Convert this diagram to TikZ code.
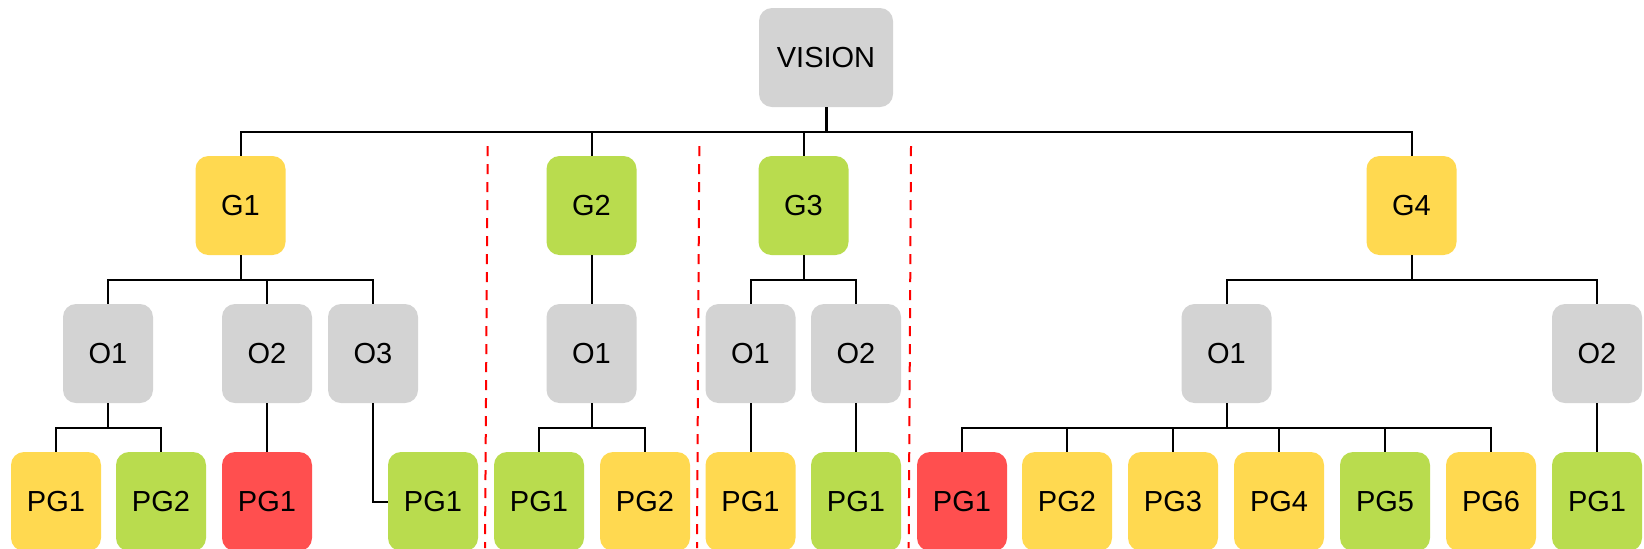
\documentclass[tikz,border=0pt]{standalone}
\usepackage{fontspec}
\setmainfont{Liberation Sans}
\usetikzlibrary{calc}

\definecolor{boxgray}{RGB}{211,211,211}
\definecolor{boxyellow}{RGB}{255,217,80}
\definecolor{boxgreen}{RGB}{185,220,78}
\definecolor{boxred}{RGB}{255,79,79}
\definecolor{divred}{RGB}{255,0,0}

\tikzset{
  card/.style={rectangle, rounded corners=6.5pt, inner sep=0pt,
    minimum width=45pt, minimum height=49.5pt, draw=none,
    font=\fontsize{14.5}{17}\selectfont, text=black},
  gray/.style={card, fill=boxgray},
  yel/.style={card, fill=boxyellow},
  grn/.style={card, fill=boxgreen},
  rd/.style={card, fill=boxred},
  link/.style={draw=black, line width=1pt},
  bus/.style={to path={(\tikztostart) |- ($(\tikztostart)!.5!(\tikztotarget)$) -| (\tikztotarget)}},
  divider/.style={draw=divred, line width=1pt, dash pattern=on 5pt off 4pt}
}

\begin{document}
\begin{tikzpicture}[x=0.5pt,y=-0.5pt]
\clip (0,0) rectangle (1644,548);
\fill[white] (0,0) rectangle (1644,548);

% root
\node[gray, minimum width=67pt] (vision) at (826,57.5) {VISION};

% goals
\node[yel] (g1) at (240.5,205.5) {G1};
\node[grn] (g2) at (591.5,205.5) {G2};
\node[grn] (g3) at (803.5,205.5) {G3};
\node[yel] (g4) at (1411.5,205.5) {G4};

% objectives
\node[gray] (g1o1) at (108,353.5) {O1};
\node[gray] (g1o2) at (267,353.5) {O2};
\node[gray] (g1o3) at (373,353.5) {O3};
\node[gray] (g2o1) at (591.5,353.5) {O1};
\node[gray] (g3o1) at (750.5,353.5) {O1};
\node[gray] (g3o2) at (856,353.5) {O2};
\node[gray] (g4o1) at (1226.5,353.5) {O1};
\node[gray] (g4o2) at (1597,353.5) {O2};

% programmes
\node[yel] (p111) at (56,501.5) {PG1};
\node[grn] (p112) at (161,501.5) {PG2};
\node[rd]  (p121) at (267,501.5) {PG1};
\node[grn] (p131) at (433,501.5) {PG1};
\node[grn] (p211) at (539,501.5) {PG1};
\node[yel] (p212) at (645,501.5) {PG2};
\node[yel] (p311) at (750.5,501.5) {PG1};
\node[grn] (p321) at (856,501.5) {PG1};
\node[rd]  (p411) at (962,501.5) {PG1};
\node[yel] (p412) at (1067,501.5) {PG2};
\node[yel] (p413) at (1173,501.5) {PG3};
\node[yel] (p414) at (1279,501.5) {PG4};
\node[grn] (p415) at (1385,501.5) {PG5};
\node[yel] (p416) at (1491,501.5) {PG6};
\node[grn] (p421) at (1597,501.5) {PG1};

% tree connectors
\coordinate (vbus) at ($(vision.south)!.5!(vision.south |- g1.north)$);
\draw[link, line width=1.5pt] (vision.south) -- (vbus);
\foreach \c in {g1,g2,g3,g4} \draw[link] (vision.south) to[bus] (\c.north);
\foreach \c in {g1o1,g1o2,g1o3} \draw[link] (g1.south) to[bus] (\c.north);
\draw[link] (g2.south) to[bus] (g2o1.north);
\foreach \c in {g3o1,g3o2} \draw[link] (g3.south) to[bus] (\c.north);
\foreach \c in {g4o1,g4o2} \draw[link] (g4.south) to[bus] (\c.north);
\foreach \c in {p111,p112} \draw[link] (g1o1.south) to[bus] (\c.north);
\draw[link] (g1o2.south) to[bus] (p121.north);
\draw[link] (g1o3.south) |- (p131.west);
\foreach \c in {p211,p212} \draw[link] (g2o1.south) to[bus] (\c.north);
\draw[link] (g3o1.south) to[bus] (p311.north);
\draw[link] (g3o2.south) to[bus] (p321.north);
\foreach \c in {p411,p412,p413,p414,p415,p416} \draw[link] (g4o1.south) to[bus] (\c.north);
\draw[link] (g4o2.south) to[bus] (p421.north);

% section dividers
\draw[divider] (487.7,146) -- (485,548);
\draw[divider] (699.3,146) -- (697,548);
\draw[divider] (911,146) -- (908.7,548);
\end{tikzpicture}
\end{document}
